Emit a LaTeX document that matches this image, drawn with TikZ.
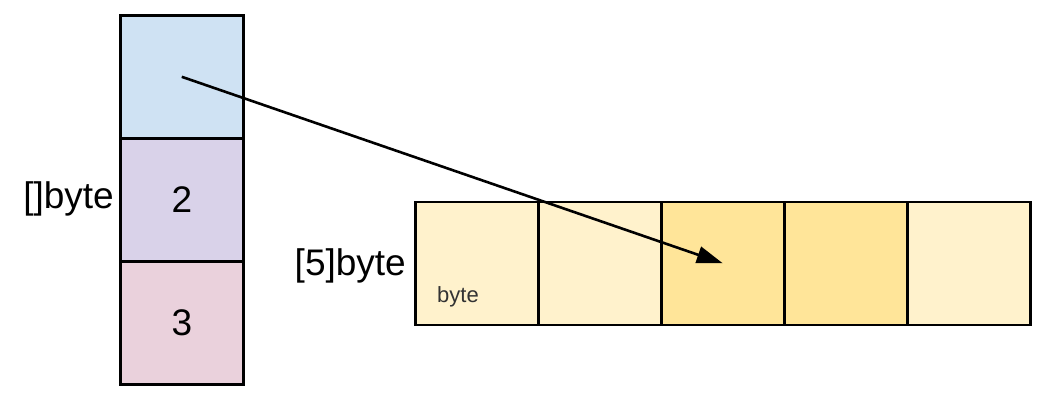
\documentclass[tikz,border=0pt]{standalone}
\usepackage{fontspec}
\setmainfont{Liberation Sans}
\usetikzlibrary{arrows.meta}
\definecolor{slblue}{HTML}{CFE2F3}
\definecolor{sllav}{HTML}{D9D2E9}
\definecolor{slpink}{HTML}{EAD1DC}
\definecolor{arrlight}{HTML}{FFF2CC}
\definecolor{arrdark}{HTML}{FFE599}
\begin{document}
\begin{tikzpicture}[x=1pt,y=-1pt,
  cell/.style={draw=black, line width=2.6pt, minimum width=123pt, minimum height=123pt,
               inner sep=0pt, anchor=north west},
  bigtext/.style={font=\fontsize{37}{40}\selectfont, inner sep=0pt, text=black},
  smalltext/.style={font=\fontsize{22}{24}\selectfont, inner sep=0pt, text=black!80},
  ptr/.style={line width=2.6pt, -{Triangle[length=26pt,width=17pt]}}]
\useasboundingbox (0,0) rectangle (1042,402);

% slice header: pointer, len, cap
\node[cell, fill=slblue] (hdr) at (119,14) {};
\node[cell, fill=sllav]  (len) at (119,137) {};
\node[cell, fill=slpink] (cap) at (119,260) {};
\node[bigtext] (lenv) at (len.center) {2};
\node[bigtext] (capv) at (cap.center) {3};
\node[bigtext, anchor=east] (slabel) at (114,199) {[]byte};

% backing array of five bytes
\node[cell, fill=arrlight] (a0) at (414,200.5) {};
\node[cell, fill=arrlight] (a1) at (537,200.5) {};
\node[cell, fill=arrdark]  (a2) at (660,200.5) {};
\node[cell, fill=arrdark]  (a3) at (783,200.5) {};
\node[cell, fill=arrlight] (a4) at (906,200.5) {};
\node[smalltext, anchor=base west] (elem) at (437,302) {byte};
\node[bigtext, anchor=east] (alabel) at (406,266) {[5]byte};

% pointer into the array
\draw[ptr] (hdr.center) -- (a2.center);
\end{tikzpicture}
\end{document}
